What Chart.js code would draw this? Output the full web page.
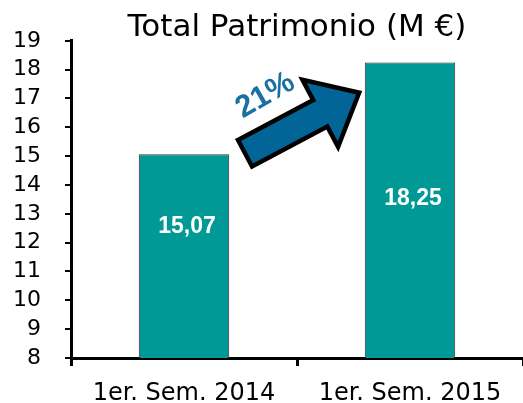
<!DOCTYPE html>
<html>
<head>
<meta charset="utf-8">
<script src="https://cdn.jsdelivr.net/npm/chart.js@4"></script>
<style>
  html, body { margin: 0; padding: 0; background: #fff; }
  #wrap { width: 523px; height: 403px; }
</style>
</head>
<body>
<div id="wrap"><canvas id="patrimonioChart" width="523" height="403"></canvas></div>
<script>
const categories = ['1er. Sem. 2014', '1er. Sem. 2015'];
const patrimonio = [15.07, 18.25];
const valueLabels = ['15,07', '18,25'];
const growthLabel = '21%';
const yMin = 8;
const yMax = 19;

// white value labels inside bars + growth arrow between the bars
const overlayPlugin = {
    id: 'overlay',
    afterDatasetsDraw(chart) {
        const c = chart.ctx;
        const xs = chart.scales.x;
        const ys = chart.scales.y;
        const catW = xs.getPixelForValue(1) - xs.getPixelForValue(0);
        const px = (i) => xs.getPixelForValue(0) + i * catW;

        // value labels
        const labelAt = [12.57, 13.52];
        c.save();
        c.fillStyle = '#fff';
        c.font = 'bold 23px "Liberation Sans", Arial, sans-serif';
        c.textAlign = 'center';
        c.textBaseline = 'middle';
        valueLabels.forEach((t, i) => {
            c.fillText(t, xs.getPixelForValue(i) + 3, ys.getPixelForValue(labelAt[i]));
        });
        c.restore();

        // arrow
        const x0 = px(0.27), y0 = ys.getPixelForValue(15.1);
        const x1 = px(0.775), y1 = ys.getPixelForValue(17.2);
        const ang = Math.atan2(y1 - y0, x1 - x0);
        const len = Math.hypot(x1 - x0, y1 - y0);
        const sh = 15, hh = 38, hl = 44;
        c.save();
        c.translate(x0, y0);
        c.rotate(ang);
        c.beginPath();
        c.moveTo(0, -sh);
        c.lineTo(len - hl, -sh);
        c.lineTo(len - hl, -hh);
        c.lineTo(len, 0);
        c.lineTo(len - hl, hh);
        c.lineTo(len - hl, sh);
        c.lineTo(0, sh);
        c.closePath();
        c.fillStyle = '#036497';
        c.fill();
        c.lineWidth = 4.5;
        c.lineJoin = 'miter';
        c.strokeStyle = '#000';
        c.stroke();
        c.restore();

        // growth text
        c.save();
        c.translate(px(0.36), ys.getPixelForValue(17.1));
        c.rotate(-30 * Math.PI / 180);
        c.fillStyle = '#1b6fa2';
        c.font = 'bold 31px "Liberation Sans", Arial, sans-serif';
        c.textAlign = 'center';
        c.textBaseline = 'middle';
        c.fillText(growthLabel, 0, 0);
        c.restore();
    }
};

const ctx = document.getElementById('patrimonioChart').getContext('2d');
const chart = new Chart(ctx, {
    type: 'bar',
    data: {
        labels: categories,
        datasets: [{
            data: patrimonio,
            backgroundColor: '#009995',
            borderColor: '#333',
            borderWidth: 1,
            categoryPercentage: 1,
            barPercentage: 0.4
        }]
    },
    options: {
        responsive: false,
        animation: false,
        layout: { padding: 0 },
        plugins: {
            legend: { display: false },
            tooltip: { enabled: false },
            title: {
                display: true,
                text: 'Total Patrimonio (M €)',
                fullSize: false,
                color: '#000',
                font: { family: '"DejaVu Sans", Verdana, sans-serif', size: 31, weight: 'normal', lineHeight: 0.8 },
                padding: { top: 16, bottom: 0 }
            }
        },
        scales: {
            x: {
                grid: { offset: true, drawOnChartArea: false, color: '#000', lineWidth: 3, tickLength: 8 },
                border: { color: '#000', width: 3 },
                ticks: {
                    color: '#000',
                    padding: 13,
                    font: { family: '"DejaVu Sans", Verdana, sans-serif', size: 24 }
                },
                afterFit(scale) { scale.height = 45; }
            },
            y: {
                min: yMin,
                max: yMax,
                grid: { drawOnChartArea: false, color: '#000', lineWidth: 2, tickLength: 6 },
                border: { color: '#000', width: 3 },
                ticks: {
                    stepSize: 1,
                    autoSkip: false,
                    color: '#000',
                    padding: 24,
                    font: { family: '"DejaVu Sans", Verdana, sans-serif', size: 22 }
                },
                afterFit(scale) { scale.width = 71; }
            }
        }
    },
    plugins: [overlayPlugin]
});
</script>
</body>
</html>
